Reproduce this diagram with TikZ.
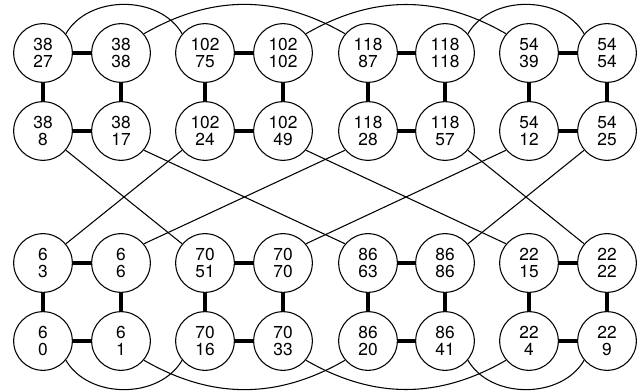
\documentclass[tikz,border=0pt]{standalone}
\usepackage{fontspec}
\setmainfont{TeX Gyre Heros}

\begin{document}
\begin{tikzpicture}[x=0.75pt,y=-0.75pt,
    vert/.style={circle, draw, line width=0.8pt, minimum size=44pt, inner sep=0pt,
      align=center, font=\fontsize{13}{13}\selectfont},
    bond/.style={line width=3.5pt},
    wire/.style={line width=0.8pt}]
  \useasboundingbox (0,0) rectangle (642,392);

  % first row
  \node[vert] (n38-27) at (43,53) {38\\27};
  \node[vert] (n38-38) at (121,53) {38\\38};
  \node[vert] (n102-75) at (205,53) {102\\75};
  \node[vert] (n102-102) at (283,53) {102\\102};
  \node[vert] (n118-87) at (368,53) {118\\87};
  \node[vert] (n118-118) at (445,53) {118\\118};
  \node[vert] (n54-39) at (529,53) {54\\39};
  \node[vert] (n54-54) at (607,53) {54\\54};
  % second row
  \node[vert] (n38-8) at (43,131) {38\\8};
  \node[vert] (n38-17) at (121,131) {38\\17};
  \node[vert] (n102-24) at (205,131) {102\\24};
  \node[vert] (n102-49) at (283,131) {102\\49};
  \node[vert] (n118-28) at (368,131) {118\\28};
  \node[vert] (n118-57) at (445,131) {118\\57};
  \node[vert] (n54-12) at (529,131) {54\\12};
  \node[vert] (n54-25) at (607,131) {54\\25};
  % third row
  \node[vert] (n6-3) at (43,263) {6\\3};
  \node[vert] (n6-6) at (121,263) {6\\6};
  \node[vert] (n70-51) at (205,263) {70\\51};
  \node[vert] (n70-70) at (283,263) {70\\70};
  \node[vert] (n86-63) at (368,263) {86\\63};
  \node[vert] (n86-86) at (445,263) {86\\86};
  \node[vert] (n22-15) at (529,263) {22\\15};
  \node[vert] (n22-22) at (607,263) {22\\22};
  % fourth row
  \node[vert] (n6-0) at (43,341) {6\\0};
  \node[vert] (n6-1) at (121,341) {6\\1};
  \node[vert] (n70-16) at (205,341) {70\\16};
  \node[vert] (n70-33) at (283,341) {70\\33};
  \node[vert] (n86-20) at (368,341) {86\\20};
  \node[vert] (n86-41) at (445,341) {86\\41};
  \node[vert] (n22-4) at (529,341) {22\\4};
  \node[vert] (n22-9) at (607,341) {22\\9};

  % squares
  \draw[bond] (n38-27) -- (n38-38) -- (n38-17) -- (n38-8) -- (n38-27);
  \draw[bond] (n102-75) -- (n102-102) -- (n102-49) -- (n102-24) -- (n102-75);
  \draw[bond] (n118-87) -- (n118-118) -- (n118-57) -- (n118-28) -- (n118-87);
  \draw[bond] (n54-39) -- (n54-54) -- (n54-25) -- (n54-12) -- (n54-39);
  \draw[bond] (n6-3) -- (n6-6) -- (n6-1) -- (n6-0) -- (n6-3);
  \draw[bond] (n70-51) -- (n70-70) -- (n70-33) -- (n70-16) -- (n70-51);
  \draw[bond] (n86-63) -- (n86-86) -- (n86-41) -- (n86-20) -- (n86-63);
  \draw[bond] (n22-15) -- (n22-22) -- (n22-9) -- (n22-4) -- (n22-15);

  % arcs over the top
  \draw[wire] (n38-27.40) to[out=60,in=120] (n102-75.140);
  \draw[wire] (n38-38.40) to[out=30,in=150] (n118-87.140);
  \draw[wire] (n102-102.40) to[out=30,in=150] (n54-39.140);
  \draw[wire] (n118-118.40) to[out=60,in=120] (n54-54.140);

  % crossing wires
  \draw[wire] (n38-8.320) -- (n70-51.140);
  \draw[wire] (n102-24.220) -- (n6-3.40);
  \draw[wire] (n38-17.320) -- (n86-63.140);
  \draw[wire] (n118-28.220) -- (n6-6.40);
  \draw[wire] (n102-49.320) -- (n22-15.140);
  \draw[wire] (n54-12.220) -- (n70-70.40);
  \draw[wire] (n118-57.320) -- (n22-22.140);
  \draw[wire] (n54-25.220) -- (n86-86.40);

  % arcs under the bottom
  \draw[wire] (n6-0.320) to[out=-60,in=-120] (n70-16.220);
  \draw[wire] (n6-1.320) to[out=-30,in=-150] (n86-20.220);
  \draw[wire] (n70-33.320) to[out=-30,in=-150] (n22-4.220);
  \draw[wire] (n86-41.320) to[out=-60,in=-120] (n22-9.220);
\end{tikzpicture}
\end{document}
